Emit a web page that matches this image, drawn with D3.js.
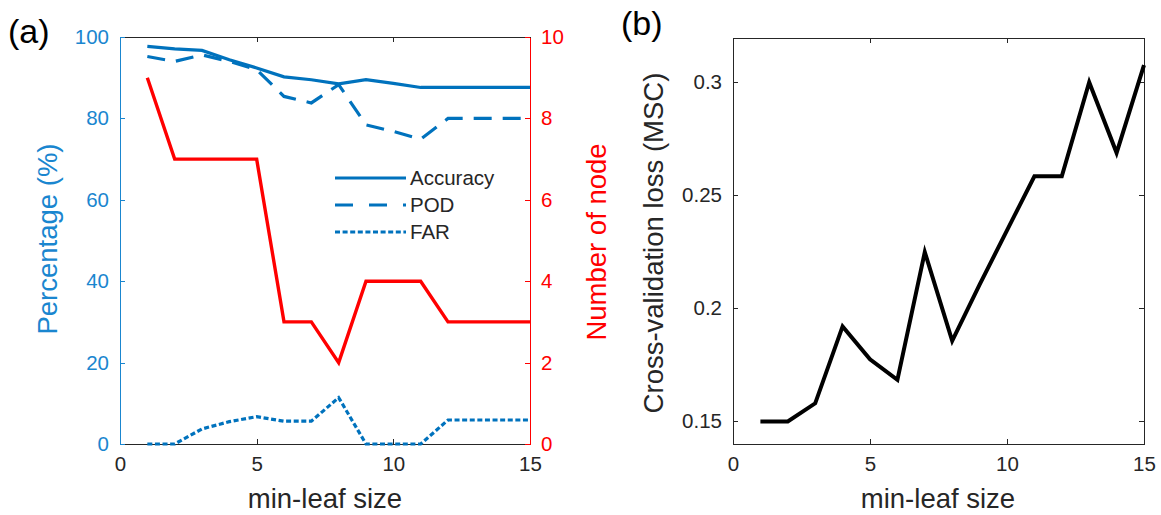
<!DOCTYPE html>
<html>
<head>
<meta charset="utf-8">
<script src="https://cdn.jsdelivr.net/npm/d3@7"></script>
<style>
  body { margin: 0; background: #fff; }
  svg { display: block; font-family: "Liberation Sans", Arial, sans-serif; }
  .axis path, .axis line { shape-rendering: crispEdges; }
</style>
</head>
<body>
<div id="chart"></div>
<script>
// min-leaf size on the x axis of both panels
const leafSize = [1, 2, 3, 4, 5, 6, 7, 8, 9, 10, 11, 12, 13, 14, 15];

// panel (a), left axis (%)
const accuracy = [97.7, 97.1, 96.7, 94.4, 92.4, 90.2, 89.5, 88.5, 89.5, 88.6, 87.6, 87.6, 87.6, 87.6, 87.6];
const pod = [95.2, 94.0, 95.6, 94.0, 92.0, 85.4, 83.8, 88.3, 78.4, 76.8, 74.9, 80.0, 80.0, 80.0, 80.0];
const far = [0, 0, 3.7, 5.5, 6.7, 5.6, 5.6, 11.4, 0, 0, 0, 5.9, 5.9, 5.9, 5.9];
// panel (a), right axis
const nodes = [9, 7, 7, 7, 7, 3, 3, 2, 4, 4, 4, 3, 3, 3, 3];

// panel (b)
const cvLoss = [0.150, 0.150, 0.158, 0.192, 0.1775, 0.1684, 0.2249, 0.1856, 0.2105, 0.2345, 0.2584, 0.2584, 0.300, 0.2688, 0.3076];

const xTicks = [0, 5, 10, 15];
const pctTicks = [0, 20, 40, 60, 80, 100];
const nodeTicks = [0, 2, 4, 6, 8, 10];
const lossTicks = [0.15, 0.2, 0.25, 0.3];

const W = 1161, H = 515;
const BLUE = '#0072BD', AXBLUE = '#1a86cf', RED = '#ff0000', INK = '#262626';
const FS = 20.5, LFS = 27.5;

const svg = d3.select('#chart').append('svg').attr('width', W).attr('height', H);

function styleAxis(g, color) {
  g.attr('font-size', FS).attr('font-family', null);
  g.select('.domain').attr('stroke', color);
  g.selectAll('.tick line').attr('stroke', color);
  g.selectAll('.tick text').attr('fill', color);
}

// ---------- panel (a) ----------
const A = { left: 120, right: 530, top: 37, bottom: 444 };
const xa = d3.scaleLinear().domain([0, 15]).range([A.left, A.right]);
const yPct = d3.scaleLinear().domain([0, 100]).range([A.bottom, A.top]);
const yNode = d3.scaleLinear().domain([0, 10]).range([A.bottom, A.top]);

svg.append('g').attr('class', 'axis')
  .attr('transform', `translate(0,${A.top})`)
  .call(d3.axisTop(xa).tickValues(xTicks).tickSize(-5).tickSizeOuter(0).tickFormat(''))
  .call(g => styleAxis(g, INK));
svg.append('g').attr('class', 'axis')
  .attr('transform', `translate(0,${A.bottom})`)
  .call(d3.axisBottom(xa).tickValues(xTicks).tickSize(-5).tickSizeOuter(0).tickPadding(12))
  .call(g => styleAxis(g, INK));
svg.append('g').attr('class', 'axis')
  .attr('transform', `translate(${A.left},0)`)
  .call(d3.axisLeft(yPct).tickValues(pctTicks).tickSize(-5).tickSizeOuter(0).tickPadding(11))
  .call(g => styleAxis(g, AXBLUE));
svg.append('g').attr('class', 'axis')
  .attr('transform', `translate(${A.right},0)`)
  .call(d3.axisRight(yNode).tickValues(nodeTicks).tickSize(-5).tickSizeOuter(0).tickPadding(11))
  .call(g => styleAxis(g, RED));

const lineA = vals => d3.line().x((d, i) => xa(leafSize[i])).y(d => yPct(d))(vals);
const lineN = d3.line().x((d, i) => xa(leafSize[i])).y(d => yNode(d));

svg.append('path').attr('d', lineN(nodes))
  .attr('fill', 'none').attr('stroke', RED).attr('stroke-width', 3.4);

const pctSeries = [
  { label: 'Accuracy', values: accuracy, dash: null },
  { label: 'POD', values: pod, dash: '18,11' },
  { label: 'FAR', values: far, dash: '5,2.6' },
];
pctSeries.forEach(s => {
  svg.append('path').attr('d', lineA(s.values))
    .attr('fill', 'none').attr('stroke', BLUE).attr('stroke-width', 3.2)
    .attr('stroke-dasharray', s.dash);
});

// legend (no box)
const leg = svg.append('g').attr('transform', 'translate(335,178)');
pctSeries.forEach((s, i) => {
  const ly = i * 27;
  leg.append('line').attr('x1', 0).attr('x2', 71).attr('y1', ly).attr('y2', ly)
    .attr('stroke', BLUE).attr('stroke-width', 3.2)
    .attr('stroke-dasharray', s.dash === '18,11' ? '18,16' : s.dash);
  leg.append('text').attr('x', 75).attr('y', ly).attr('dy', '0.36em')
    .attr('font-size', FS).attr('fill', INK).text(s.label);
});

svg.append('text').attr('x', 325).attr('y', 508).attr('text-anchor', 'middle')
  .attr('font-size', LFS).attr('fill', INK).text('min-leaf size');
svg.append('text').attr('transform', 'translate(57,239) rotate(-90)').attr('text-anchor', 'middle')
  .attr('font-size', LFS).attr('fill', AXBLUE).text('Percentage (%)');
svg.append('text').attr('transform', 'translate(606,242) rotate(-90)').attr('text-anchor', 'middle')
  .attr('font-size', LFS).attr('fill', RED).text('Number of node');
svg.append('text').attr('x', 8).attr('y', 43).attr('font-size', 34).attr('fill', '#000').text('(a)');

// ---------- panel (b) ----------
const B = { left: 733, right: 1144, top: 38, bottom: 444 };
const xb = d3.scaleLinear().domain([0, 15]).range([B.left, B.right]);
const yb = d3.scaleLinear().domain([0.14, 0.3196]).range([B.bottom, B.top]);

svg.append('g').attr('class', 'axis')
  .attr('transform', `translate(0,${B.top})`)
  .call(d3.axisTop(xb).tickValues(xTicks).tickSize(-5).tickSizeOuter(0).tickFormat(''))
  .call(g => styleAxis(g, INK));
svg.append('g').attr('class', 'axis')
  .attr('transform', `translate(0,${B.bottom})`)
  .call(d3.axisBottom(xb).tickValues(xTicks).tickSize(-5).tickSizeOuter(0).tickPadding(12))
  .call(g => styleAxis(g, INK));
svg.append('g').attr('class', 'axis')
  .attr('transform', `translate(${B.left},0)`)
  .call(d3.axisLeft(yb).tickValues(lossTicks).tickSize(-5).tickSizeOuter(0).tickPadding(11)
    .tickFormat(d => String(+d.toFixed(2))))
  .call(g => styleAxis(g, INK));
svg.append('g').attr('class', 'axis')
  .attr('transform', `translate(${B.right},0)`)
  .call(d3.axisRight(yb).tickValues(lossTicks).tickSize(-5).tickSizeOuter(0).tickFormat(''))
  .call(g => styleAxis(g, INK));

svg.append('path')
  .attr('d', d3.line().x((d, i) => xb(leafSize[i])).y(d => yb(d))(cvLoss))
  .attr('fill', 'none').attr('stroke', '#000').attr('stroke-width', 4)
  .attr('stroke-linejoin', 'miter');

svg.append('text').attr('x', 938).attr('y', 508).attr('text-anchor', 'middle')
  .attr('font-size', LFS).attr('fill', INK).text('min-leaf size');
svg.append('text').attr('transform', 'translate(663,243) rotate(-90)').attr('text-anchor', 'middle')
  .attr('font-size', LFS).attr('fill', INK).text('Cross-validation loss (MSC)');
svg.append('text').attr('x', 621).attr('y', 35).attr('font-size', 34).attr('fill', '#000').text('(b)');
</script>
</body>
</html>
